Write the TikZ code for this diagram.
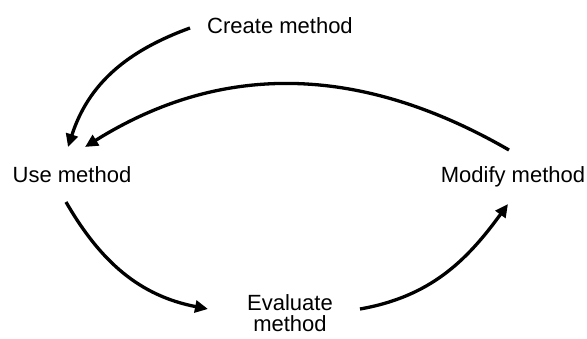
\documentclass[tikz,border=0pt]{standalone}
\usepackage{fontspec}
\setmainfont{Liberation Sans}
\usetikzlibrary{arrows.meta}
\begin{document}
\begin{tikzpicture}[x=1pt,y=-1pt,
  lbl/.style={inner sep=0pt,font=\fontsize{22}{21.5}\selectfont},
  flow/.style={line width=3.3pt,-{Triangle[length=13pt,width=12pt]}}]
\useasboundingbox (0,0) rectangle (587,338);
\node[lbl,anchor=base] (create) at (280,33) {Create method};
\node[lbl,anchor=base] (use) at (72,182.5) {Use method};
\node[lbl,anchor=base] (modify) at (513,182.5) {Modify method};
\node[lbl,anchor=north,align=center] (eval) at (290,294) {Evaluate\\method};
\coordinate (c1s) at (190,28);
\coordinate (c1e) at (68,147);
\coordinate (c2s) at (509,150);
\coordinate (c2e) at (85,147);
\coordinate (c3s) at (66,202);
\coordinate (c3e) at (208,309);
\coordinate (c4s) at (360,309);
\coordinate (c4e) at (508,204);
\draw[flow] (c1s) to[out=200,in=72] (c1e);
\draw[flow] (c2s) to[out=150,in=32] (c2e);
\draw[flow] (c3s) to[out=300,in=169] (c3e);
\draw[flow] (c4s) to[out=10,in=234] (c4e);
\end{tikzpicture}
\end{document}
